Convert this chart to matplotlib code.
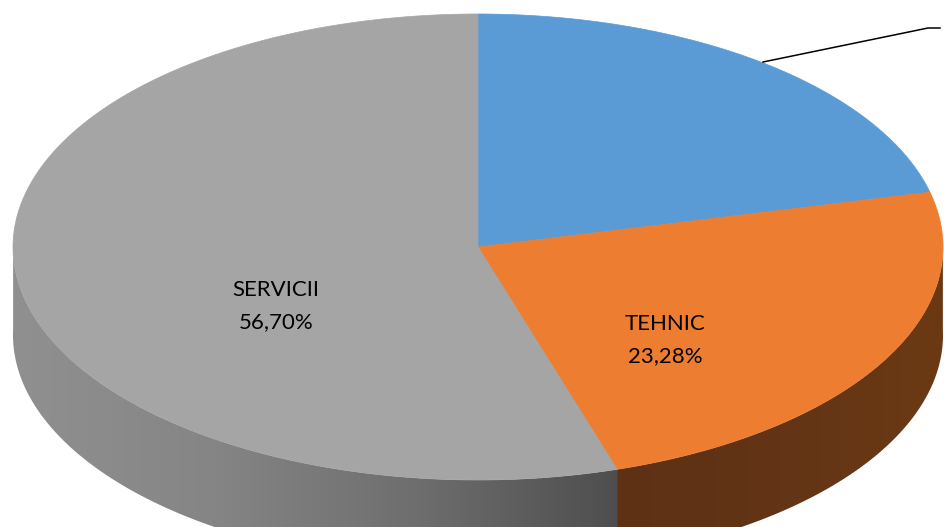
import numpy as np
import matplotlib
matplotlib.use("Agg")
import matplotlib.pyplot as plt
from matplotlib.colors import LinearSegmentedColormap
from matplotlib.patches import Polygon

# slice data, clockwise from 12 o'clock
names = ["", "TEHNIC", "SERVICII"]
shares = [20.02, 23.28, 56.70]
shown = ["", "23,28%", "56,70%"]
top_colors = ["#5B9BD5", "#ED7D31", "#A5A5A5"]

plt.rcParams['font.family'] = ['Lato', 'DejaVu Sans']

# pie geometry in image pixels
cx, cy = 478, 247
rx, ry = 465, 233
depth = 88


def rim(angle):
    # clockwise degrees from top, the 3D view stretches the right hand side a bit
    t = np.radians(angle)
    seen = t + np.radians(7.54 * np.sin(t) - 4.88 * np.sin(2 * t))
    return cx + rx * np.sin(seen), cy - ry * np.cos(seen)


def wall(ax, a0, a1, colors):
    # side of the pie between two angles, filled with a horizontal gradient
    t = np.linspace(a0, a1, 200)
    x, y = rim(t)
    pts = np.r_[np.c_[x, y], np.c_[x, y + depth][::-1]]
    patch = Polygon(pts, closed=True, facecolor='none', edgecolor='none')
    ax.add_patch(patch)
    cmap = LinearSegmentedColormap.from_list("side", colors)
    im = ax.imshow(np.linspace(0, 1, 256)[None, :], cmap=cmap, aspect='auto',
                   extent=[x.min(), x.max(), y.max() + depth, y.min()], zorder=1)
    im.set_clip_path(patch)


fig = plt.figure(figsize=(9.45, 5.27), dpi=100)
ax = fig.add_axes([0, 0, 1, 1])

edges = np.r_[0, np.cumsum(shares)] * 3.6

# side walls, from the rightmost to the leftmost point of the rim
wall(ax, 82.5, edges[2], ["#5E3115", "#633416", "#6B3A14"])
wall(ax, edges[2], 277.5, ["#909090", "#858585", "#6E6E6E", "#4E4E4E"])

# top face
for a0, a1, col in zip(edges[:-1], edges[1:], top_colors):
    x, y = rim(np.linspace(a0, a1, 200))
    ax.add_patch(Polygon(np.c_[np.r_[cx, x], np.r_[cy, y]], closed=True,
                         facecolor=col, edgecolor=col, linewidth=0.5, zorder=2))

# data labels
label_pos = [None, (665, 340), (276, 306)]
for name, val, pos in zip(names, shown, label_pos):
    if pos is not None:
        ax.text(pos[0], pos[1], f"{name}\n{val}", ha='center', va='center',
                fontsize=16, color='black', linespacing=1.7, zorder=3)

# leader line of the blue slice, its label is cut off
ax.plot([763, 928, 940], [62, 28, 28], color='black', linewidth=1.1, zorder=3)

ax.set_xlim(0, 945)
ax.set_ylim(527, 0)
ax.axis('off')

fig.savefig("out.png", dpi=100, facecolor='white')
